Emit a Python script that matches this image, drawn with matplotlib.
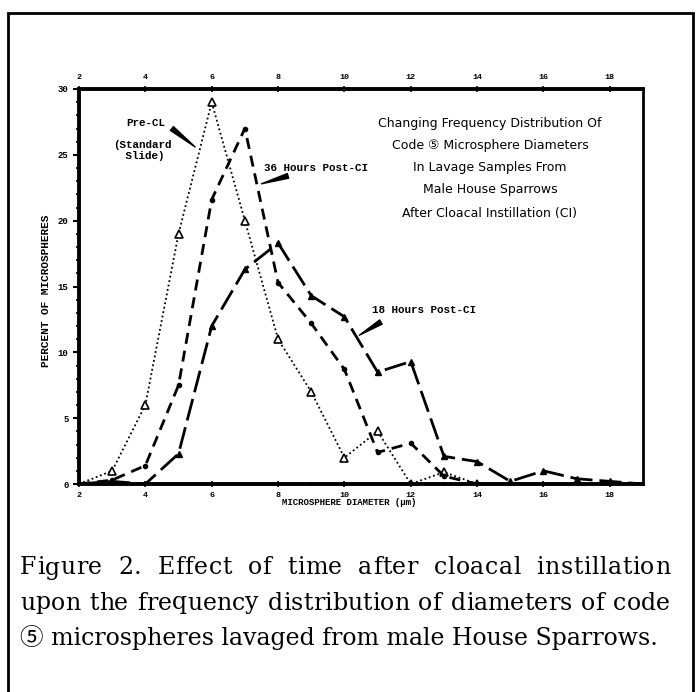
import matplotlib.pyplot as plt
from matplotlib.patches import Rectangle

# microsphere diameter (um) and percent of microspheres
diam_pre = [2, 3, 4, 5, 6, 7, 8, 9, 10, 11, 12, 13, 14]
pct_pre = [0, 1.0, 6.0, 19.0, 29.0, 20.0, 11.0, 7.0, 2.0, 4.0, 0, 0.9, 0]

diam_36 = [2, 3, 4, 5, 6, 7, 8, 9, 10, 11, 12, 13, 14]
pct_36 = [0, 0.3, 1.4, 7.5, 21.6, 27.0, 15.3, 12.2, 8.7, 2.4, 3.1, 0.6, 0]

diam_18 = [2, 3, 4, 5, 6, 7, 8, 9, 10, 11, 12, 13, 14, 15, 16, 17, 18, 19]
pct_18 = [0, 0.2, 0, 2.3, 12.0, 16.3, 18.3, 14.3, 12.7, 8.5, 9.3, 2.1, 1.7, 0.2, 1.0, 0.4, 0.2, 0]

x_major = [2, 4, 6, 8, 10, 12, 14, 16, 18]
y_major = [0, 5, 10, 15, 20, 25, 30]

title_lines = [
    "Changing Frequency Distribution Of",
    "Code \u2464 Microsphere Diameters",
    "In Lavage Samples From",
    "Male House Sparrows",
    "After Cloacal Instillation (CI)",
]
caption_lines = [
    "Figure 2. Effect of time after cloacal instillation",
    "upon the frequency distribution of diameters of code",
    "\u2464 microspheres lavaged from male House Sparrows.",
]

W, H = 698, 692
fig = plt.figure(figsize=(W / 100, H / 100), dpi=100)


def fx(px):
    return px / W


def fy(py):
    return 1 - py / H


fig.patches.append(Rectangle((fx(8), fy(700)), fx(685), (700 - 13) / H,
                             transform=fig.transFigure, fill=False,
                             edgecolor="black", linewidth=2))

ax = fig.add_axes([fx(79), fy(484), fx(643 - 79), (484 - 89) / H])

ax.plot(diam_pre, pct_pre, color="black", linestyle=(0, (1, 1.5)), linewidth=1.3,
        marker="^", markersize=6, markerfacecolor="white", markeredgewidth=1.2)
ax.plot(diam_36, pct_36, color="black", linestyle=(0, (4, 2.5)), linewidth=2.0,
        marker="o", markersize=3)
ax.plot(diam_18, pct_18, color="black", linestyle=(0, (8, 2.5)), linewidth=2.0,
        marker="^", markersize=4)

ax.set_xlim(2, 19)
ax.set_ylim(0, 30)
ax.set_xticks(x_major)
ax.set_xticks(range(3, 19, 2), minor=True)
ax.set_yticks(y_major)
ax.set_yticks(range(0, 31), minor=True)

mono = "Liberation Mono"
ax.tick_params(axis="x", which="both", top=True, labeltop=True, direction="inout",
               length=4, width=1.2, labelsize=6)
ax.tick_params(axis="x", which="minor", length=3)
ax.tick_params(axis="y", which="major", direction="out", length=4, width=1.5, labelsize=6.5)
ax.tick_params(axis="y", which="minor", direction="out", length=2.5, width=1.2)
for lab in ax.get_xticklabels() + ax.get_yticklabels():
    lab.set_fontfamily(mono)
    lab.set_fontweight("bold")

for side in ["left", "bottom", "top"]:
    ax.spines[side].set_linewidth(2.8)
ax.spines["right"].set_linewidth(2.0)

ax.set_xlabel("MICROSPHERE DIAMETER (\u00b5m)", fontsize=6.5, fontfamily=mono,
              fontweight="bold")
ax.xaxis.set_label_coords(0.479, -0.035)
ax.set_ylabel("PERCENT OF MICROSPHERES", fontsize=8, fontfamily=mono,
              fontweight="bold")
ax.yaxis.set_label_coords(-0.05, 0.49)

# curve labels with wedge pointers
lab_kw = dict(fontsize=7.8, fontfamily=mono, fontweight="bold", ha="center", va="center")
wedge = dict(arrowstyle="wedge,tail_width=0.35", color="black", shrinkA=0, shrinkB=0)
ax.text(4.0, 27.4, "Pre-CL", **lab_kw)
ax.text(3.9, 25.3, "(Standard\n Slide)", linespacing=1.1, **lab_kw)
ax.annotate("", xy=(5.5, 25.6), xytext=(4.8, 27.0), arrowprops=wedge)
ax.text(9.15, 24.0, "36 Hours Post-CI", **lab_kw)
ax.annotate("", xy=(7.5, 22.8), xytext=(8.3, 23.4), arrowprops=wedge)
ax.text(12.4, 13.2, "18 Hours Post-CI", **lab_kw)
ax.annotate("", xy=(10.45, 11.3), xytext=(11.1, 12.3), arrowprops=wedge)

# title block
title_y = [124, 146, 168, 190, 213]
for line, py in zip(title_lines, title_y):
    fig.text(fx(490), fy(py), line, fontsize=9, ha="center", va="center",
             family=["DejaVu Sans", "Noto Sans CJK JP"])

# caption, first two lines spread to the full width like the printed page
cap_y = [568, 603, 637]
cap_left, cap_right = 20, 670
cap_font = dict(fontsize=17, va="center", family=["DejaVu Serif", "Noto Sans CJK JP"])
renderer = fig.canvas.get_renderer()


def text_width(s):
    t = fig.text(0, 0, s, **cap_font)
    w = t.get_window_extent(renderer).width
    t.remove()
    return w


bar_w = text_width("|")
for i, (line, py) in enumerate(zip(caption_lines, cap_y)):
    if i == len(caption_lines) - 1:
        fig.text(fx(cap_left), fy(py), line, ha="left", **cap_font)
        continue
    extra = cap_right - cap_left - text_width(line)
    n_space = line.count(" ")
    track = 0.35 * extra / (len(line) - 1)
    word_add = 0.65 * extra / n_space
    spaces_seen = 0
    for k, ch in enumerate(line):
        if ch == " ":
            spaces_seen += 1
            continue
        offset = text_width(line[:k] + "|") - bar_w if k else 0
        xpos = cap_left + offset + k * track + spaces_seen * word_add
        fig.text(fx(xpos), fy(py), ch, ha="left", **cap_font)

fig.savefig("out.png", dpi=100)
